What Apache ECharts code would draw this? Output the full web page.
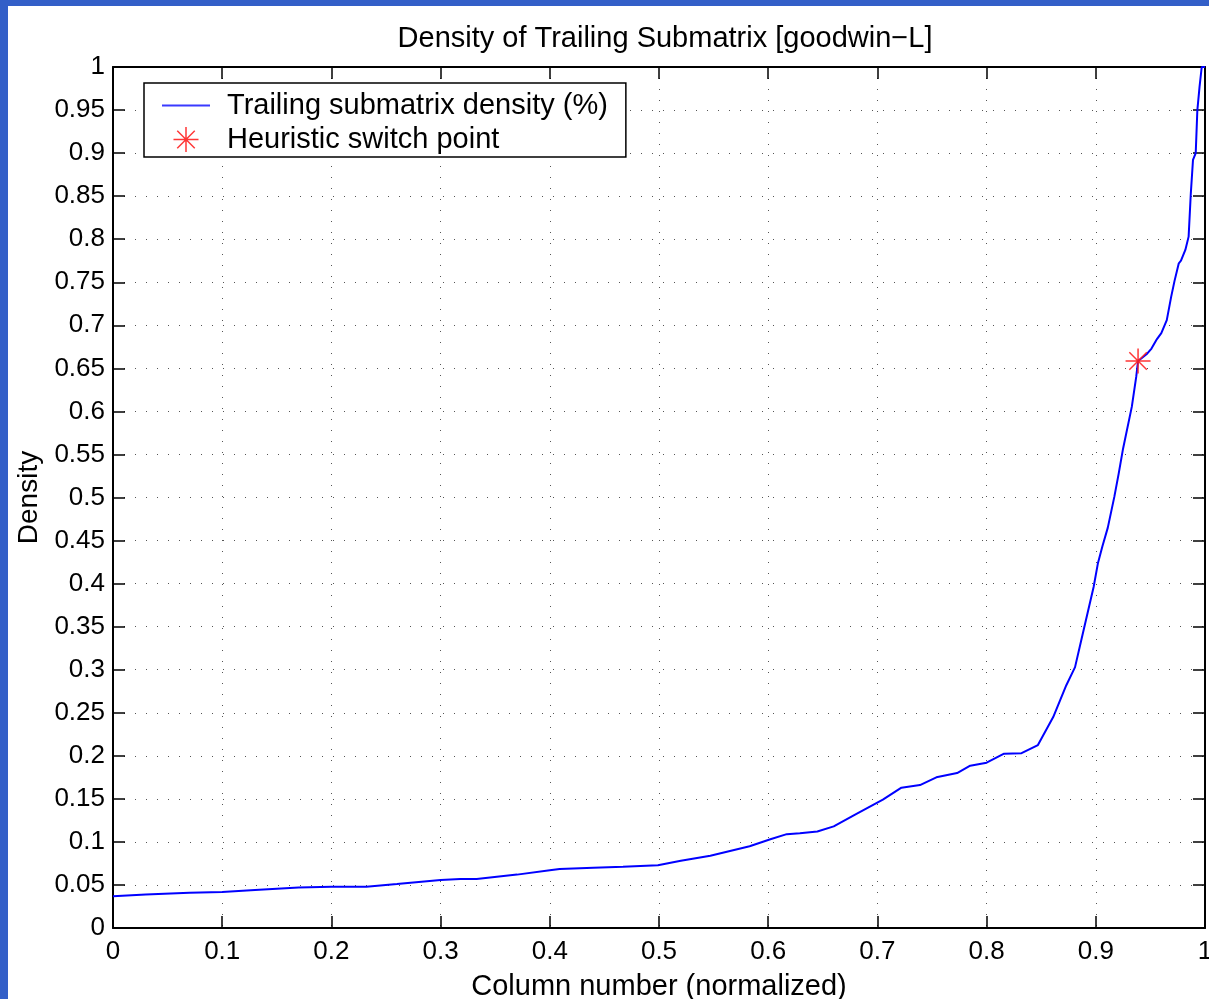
<!DOCTYPE html>
<html>
<head>
<meta charset="utf-8">
<script src="https://cdn.jsdelivr.net/npm/echarts@6/dist/echarts.min.js"></script>
<style>
html,body{margin:0;padding:0;background:#fff;overflow:hidden;}
#chart{width:1209px;height:999px;}
</style>
</head>
<body>
<div id="chart"></div>
<script>
// ---- data ----
var titleText = 'Density of Trailing Submatrix [goodwin\u2212L]';
var xAxisName = 'Column number (normalized)';
var yAxisName = 'Density';
var seriesNames = ['Trailing submatrix density (%)', 'Heuristic switch point'];

var colX = [0, 0.03, 0.07, 0.1, 0.13, 0.17, 0.2, 0.232, 0.26, 0.3, 0.318, 0.333, 0.37, 0.4, 0.409, 0.44, 0.467, 0.499, 0.52, 0.547, 0.583, 0.602, 0.617, 0.629, 0.645, 0.66, 0.68, 0.705, 0.722, 0.739, 0.754, 0.773, 0.785, 0.8, 0.816, 0.832, 0.847, 0.861, 0.873, 0.881, 0.887, 0.898, 0.902, 0.906, 0.911, 0.917, 0.921, 0.925, 0.933, 0.937, 0.9387, 0.947, 0.951, 0.956, 0.96, 0.965, 0.969, 0.972, 0.976, 0.978, 0.982, 0.985, 0.987, 0.989, 0.9915, 0.993, 0.995, 0.997, 1.0];
var densityY = [0.037, 0.039, 0.041, 0.0418, 0.044, 0.047, 0.048, 0.048, 0.051, 0.0557, 0.057, 0.057, 0.062, 0.067, 0.0685, 0.07, 0.0712, 0.0728, 0.078, 0.084, 0.095, 0.103, 0.109, 0.11, 0.112, 0.118, 0.132, 0.149, 0.163, 0.166, 0.175, 0.18, 0.1885, 0.192, 0.2025, 0.203, 0.2125, 0.245, 0.282, 0.303, 0.336, 0.396, 0.424, 0.443, 0.465, 0.501, 0.528, 0.557, 0.6055, 0.64, 0.6585, 0.667, 0.673, 0.684, 0.691, 0.706, 0.733, 0.751, 0.772, 0.775, 0.7875, 0.803, 0.853, 0.892, 0.9, 0.95, 0.977, 1.0, 1.0];
var switchX = [0.9387];
var switchY = [0.6585];

var xTicks = {min: 0, max: 1, interval: 0.1};
var yTicks = {min: 0, max: 1, interval: 0.05};

// ---- build ----
var lineData = colX.map(function (x, i) { return [x, densityY[i]]; });
var starData = switchX.map(function (x, i) { return [x, switchY[i]]; });

var FONT = 'Liberation Sans';
var starPath = 'path://M0,47 L100,47 L100,53 L0,53 Z M47,0 L53,0 L53,100 L47,100 Z ' +
  'M12.9,17.1 L17.1,12.9 L87.1,82.9 L82.9,87.1 Z M82.9,12.9 L87.1,17.1 L17.1,87.1 L12.9,82.9 Z';
var lineIcon = 'path://M0,0 L96,0 L96,4 L0,4 Z';

function fmt(v) {
  return (Math.round(v * 100) / 100).toString();
}

var axisLineStyle = {color: '#000', width: 2};
var gridDots = {show: true, lineStyle: {color: '#555', width: 1, type: [1, 10]}};
var tickStyle = {show: true, inside: true, length: 12, lineStyle: {color: '#000', width: 1.5}};

var chart = echarts.init(document.getElementById('chart'), null, {renderer: 'canvas'});
chart.setOption({
  backgroundColor: '#ffffff',
  animation: false,
  title: {
    text: titleText,
    left: 660,
    textAlign: 'center',
    top: 19,
    textStyle: {fontFamily: FONT, fontSize: 29, fontWeight: 'normal', color: '#000'}
  },
  graphic: [
    {type: 'rect', left: 0, top: 0, shape: {width: 8, height: 999}, style: {fill: '#335FC8'}, z: 100},
    {type: 'rect', left: 0, top: 0, shape: {width: 1209, height: 6}, style: {fill: '#335FC8'}, z: 100}
  ],
  legend: {
    orient: 'vertical',
    left: 144,
    top: 83,
    padding: [8, 18, 3, 18],
    itemWidth: 48,
    itemHeight: 25,
    itemGap: 5,
    symbolKeepAspect: true,
    backgroundColor: '#fff',
    borderColor: '#000',
    borderWidth: 1.5,
    textStyle: {fontFamily: FONT, fontSize: 29, color: '#000', padding: [0, 0, 0, 12]},
    data: [
      {name: seriesNames[0], icon: lineIcon, itemStyle: {color: '#3a3aff'}},
      {name: seriesNames[1], icon: starPath}
    ]
  },
  grid: {left: 113, right: 4, top: 67, bottom: 71, outerBoundsMode: 'none', containLabel: false},
  xAxis: [
    {
      type: 'value', min: xTicks.min, max: xTicks.max, interval: xTicks.interval,
      name: xAxisName, nameLocation: 'middle', nameGap: 44,
      nameTextStyle: {fontFamily: FONT, fontSize: 29, color: '#000'},
      axisLine: {show: true, onZero: false, lineStyle: axisLineStyle},
      axisTick: tickStyle,
      axisLabel: {fontFamily: FONT, fontSize: 26, color: '#000', margin: 11, formatter: fmt},
      splitLine: gridDots
    },
    {
      type: 'value', position: 'top', min: xTicks.min, max: xTicks.max, interval: xTicks.interval,
      axisLine: {show: true, onZero: false, lineStyle: axisLineStyle},
      axisTick: tickStyle,
      axisLabel: {show: false},
      splitLine: {show: false}
    }
  ],
  yAxis: [
    {
      type: 'value', min: yTicks.min, max: yTicks.max, interval: yTicks.interval,
      name: yAxisName, nameLocation: 'middle', nameGap: 68, nameRotate: 90,
      nameTextStyle: {fontFamily: FONT, fontSize: 28, color: '#000'},
      axisLine: {show: true, onZero: false, lineStyle: axisLineStyle},
      axisTick: tickStyle,
      axisLabel: {fontFamily: FONT, fontSize: 26, color: '#000', margin: 8, formatter: fmt},
      splitLine: gridDots
    },
    {
      type: 'value', position: 'right', min: yTicks.min, max: yTicks.max, interval: yTicks.interval,
      axisLine: {show: true, onZero: false, lineStyle: axisLineStyle},
      axisTick: tickStyle,
      axisLabel: {show: false},
      splitLine: {show: false}
    }
  ],
  series: [
    {
      name: seriesNames[0],
      type: 'line',
      data: lineData,
      xAxisIndex: 0, yAxisIndex: 0,
      symbol: 'none',
      smooth: false,
      lineStyle: {color: '#0000ff', width: 2},
      itemStyle: {color: '#0000ff'},
      clip: true,
      z: 3
    },
    {
      name: seriesNames[1],
      type: 'scatter',
      data: starData,
      xAxisIndex: 0, yAxisIndex: 0,
      symbol: starPath,
      symbolSize: 25,
      symbolKeepAspect: true,
      itemStyle: {color: '#ff2020', opacity: 0.9},
      z: 4
    }
  ]
});
</script>
</body>
</html>
